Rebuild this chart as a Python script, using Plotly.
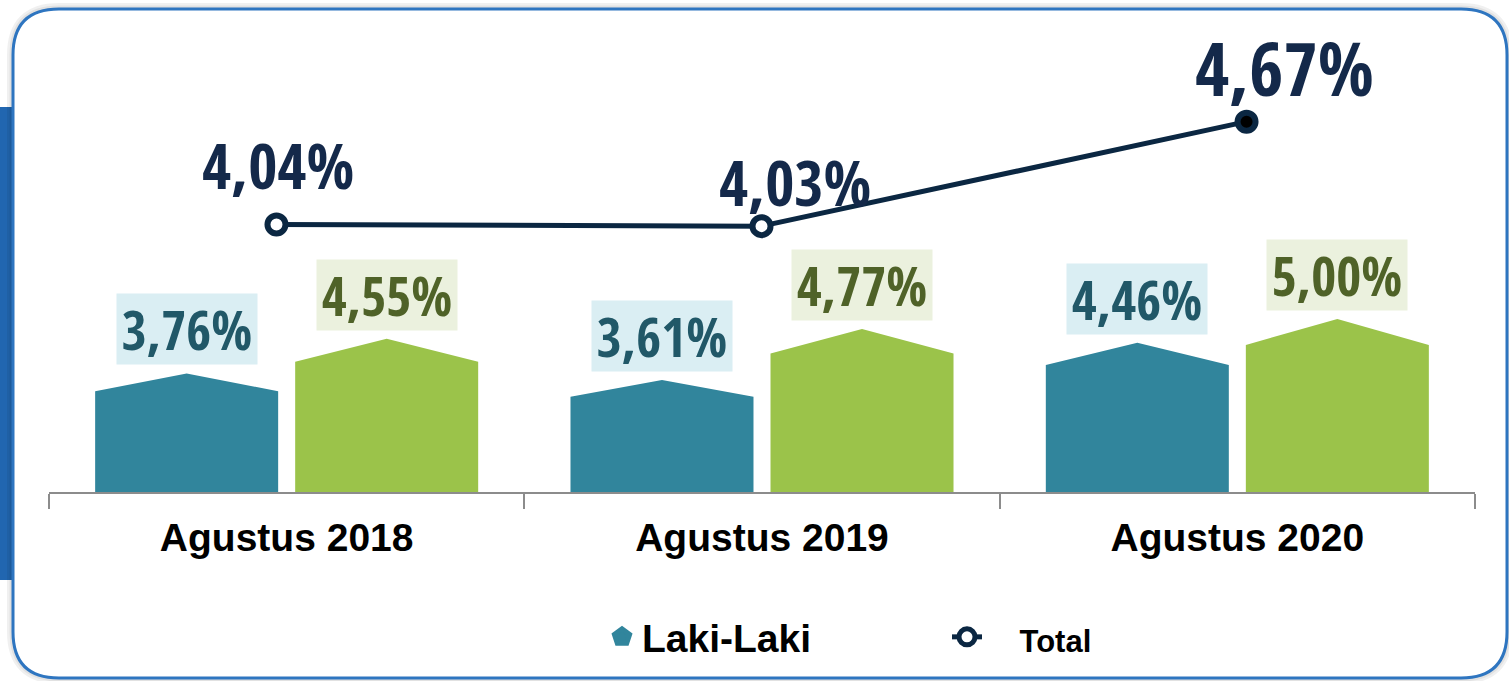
import plotly.graph_objects as go

# ---- data ----
categories = ["Agustus 2018", "Agustus 2019", "Agustus 2020"]
laki_laki = [3.76, 3.61, 4.46]
perempuan = [4.55, 4.77, 5.00]
total = [4.04, 4.03, 4.67]


def fmt(v):
    return f"{v:.2f}".replace(".", ",") + "%"


def condensed(text):
    return f'<span style="font-stretch:75%">{text}</span>'


# ---- geometry ----
FIG_W, FIG_H = 1509, 681
M_L, M_R, M_T, M_B = 49, 34, 20, 189
PW = FIG_W - M_L - M_R
PH = FIG_H - M_T - M_B
BASE_PX = FIG_H - M_B

Y_RANGE = [1.059, 11.811]        # bar axis
Y2_RANGE = [2.401, 5.293]        # total-line axis
X_RANGE = [-0.5, 2.5]
X2_RANGE = [-0.469, 2.471]

BAR_OFFSET = 0.2104
BAR_HALF = 0.1925
SHOULDER = 0.85                  # roof starts at 85% of bar height

TEAL = "#31859c"
GREEN = "#9bc34a"
NAVY = "#0b2742"
COND = "Open Sans Condensed, Open Sans, Liberation Sans, sans-serif"
SANS = "Liberation Sans, Arial, sans-serif"


def px2x(px):
    return (px - M_L) / PW


def py2y(py):
    return (BASE_PX - py) / PH


def house_polygons(values, offset):
    xs, ys = [], []
    y0 = Y_RANGE[0]
    for i, v in enumerate(values):
        c = i + offset
        s = y0 + SHOULDER * (v - y0)
        xs += [c - BAR_HALF, c - BAR_HALF, c, c + BAR_HALF, c + BAR_HALF, None]
        ys += [y0, s, v, s, y0, None]
    return xs, ys


fig = go.Figure()

for vals, off, color, name in [
    (laki_laki, -BAR_OFFSET, TEAL, "Laki-Laki"),
    (perempuan, BAR_OFFSET, GREEN, "Perempuan"),
]:
    xs, ys = house_polygons(vals, off)
    fig.add_trace(go.Scatter(
        x=xs, y=ys, mode="none", fill="toself", fillcolor=color,
        name=name, showlegend=False, hoverinfo="skip", legendgroup=name,
    ))

# legend entry for the male series
fig.add_trace(go.Scatter(
    x=[None], y=[None], mode="markers", name="Laki-Laki", legendgroup="Laki-Laki",
    marker=dict(symbol="pentagon", size=16, color=TEAL,
                line=dict(color=TEAL, width=5)),
))

fig.add_trace(go.Scatter(
    x=[0, 1, 2], y=total, xaxis="x2", yaxis="y2",
    mode="lines+markers",
    name='\u00a0\u00a0\u00a0<span style="font-size:31px">Total</span>',
    line=dict(color=NAVY, width=5),
    marker=dict(size=18, color=["white", "white", "black"],
                line=dict(color=NAVY, width=6)),
    hoverinfo="skip",
))

annotations = []
for vals, off, bg, fg in [
    (laki_laki, -BAR_OFFSET, "#daeef3", "#215868"),
    (perempuan, BAR_OFFSET, "#ebf1de", "#4f6228"),
]:
    for i, v in enumerate(vals):
        annotations.append(dict(
            x=i + off, y=v, xref="x", yref="y", text=condensed(fmt(v)),
            showarrow=False, yanchor="bottom", yshift=8, width=140, height=70,
            borderpad=0, bgcolor=bg,
            font=dict(family=COND, size=54, color=fg, weight="bold"),
        ))

total_shift = [(2, 60, 63), (33, 45, 63), (38, 54, 74)]
for i, v in enumerate(total):
    dx, dy, fs = total_shift[i]
    annotations.append(dict(
        x=i, y=v, xref="x2", yref="y2", text=condensed(fmt(v)), showarrow=False,
        xshift=dx, yshift=dy, yanchor="middle",
        font=dict(family=COND, size=fs, color="#14294a", weight="bold"),
    ))


def rounded_rect(x0, y0, x1, y1, r):
    X = px2x
    Y = py2y
    return (
        f"M{X(x0 + r)},{Y(y0)} L{X(x1 - r)},{Y(y0)} "
        f"Q{X(x1)},{Y(y0)} {X(x1)},{Y(y0 + r)} "
        f"L{X(x1)},{Y(y1 - r)} Q{X(x1)},{Y(y1)} {X(x1 - r)},{Y(y1)} "
        f"L{X(x0 + r)},{Y(y1)} Q{X(x0)},{Y(y1)} {X(x0)},{Y(y1 - r)} "
        f"L{X(x0)},{Y(y0 + r)} Q{X(x0)},{Y(y0)} {X(x0 + r)},{Y(y0)} Z"
    )


frame = rounded_rect(13, 9, 1507, 678, 46)
shapes = [
    dict(type="rect", xref="paper", yref="paper", layer="below",
         x0=px2x(0), x1=px2x(13), y0=py2y(580), y1=py2y(107),
         fillcolor="#2166b0", line=dict(width=0)),
    dict(type="path", xref="paper", yref="paper", layer="below", path=frame,
         fillcolor="rgba(0,0,0,0)", line=dict(color="rgba(0,0,0,0.06)", width=12)),
    dict(type="path", xref="paper", yref="paper", layer="below", path=frame,
         fillcolor="rgba(0,0,0,0)", line=dict(color="rgba(0,0,0,0.06)", width=7)),
    dict(type="path", xref="paper", yref="paper", layer="below", path=frame,
         fillcolor="white", line=dict(color="#2e75c0", width=3)),
]

fig.update_layout(
    width=FIG_W, height=FIG_H,
    margin=dict(l=M_L, r=M_R, t=M_T, b=M_B, autoexpand=False),
    paper_bgcolor="white", plot_bgcolor="rgba(0,0,0,0)",
    xaxis=dict(
        range=X_RANGE, tickmode="array", tickvals=[0, 1, 2], ticktext=categories,
        ticks="", showline=True, linecolor="#8c8c8c", linewidth=2,
        showgrid=False, zeroline=False, ticklabelstandoff=10,
        tickfont=dict(family=SANS, size=39, color="black", weight="bold"),
        minor=dict(tickmode="array", tickvals=[-0.5, 0.5, 1.5, 2.5],
                   ticks="outside", ticklen=15, tickwidth=2, tickcolor="#8c8c8c",
                   showgrid=False),
        fixedrange=True,
    ),
    yaxis=dict(range=Y_RANGE, visible=False, fixedrange=True),
    xaxis2=dict(range=X2_RANGE, overlaying="x", anchor="y2", visible=False,
                fixedrange=True),
    yaxis2=dict(range=Y2_RANGE, overlaying="y", anchor="x2", visible=False,
                fixedrange=True),
    legend=dict(
        orientation="h", x=px2x(602), y=py2y(637), xanchor="left", yanchor="middle",
        font=dict(family=SANS, size=39, color="black", weight="bold"),
        entrywidth=300, bgcolor="rgba(0,0,0,0)", traceorder="normal",
    ),
    annotations=annotations,
    shapes=shapes,
    showlegend=True,
)

fig.write_html("out.html")
